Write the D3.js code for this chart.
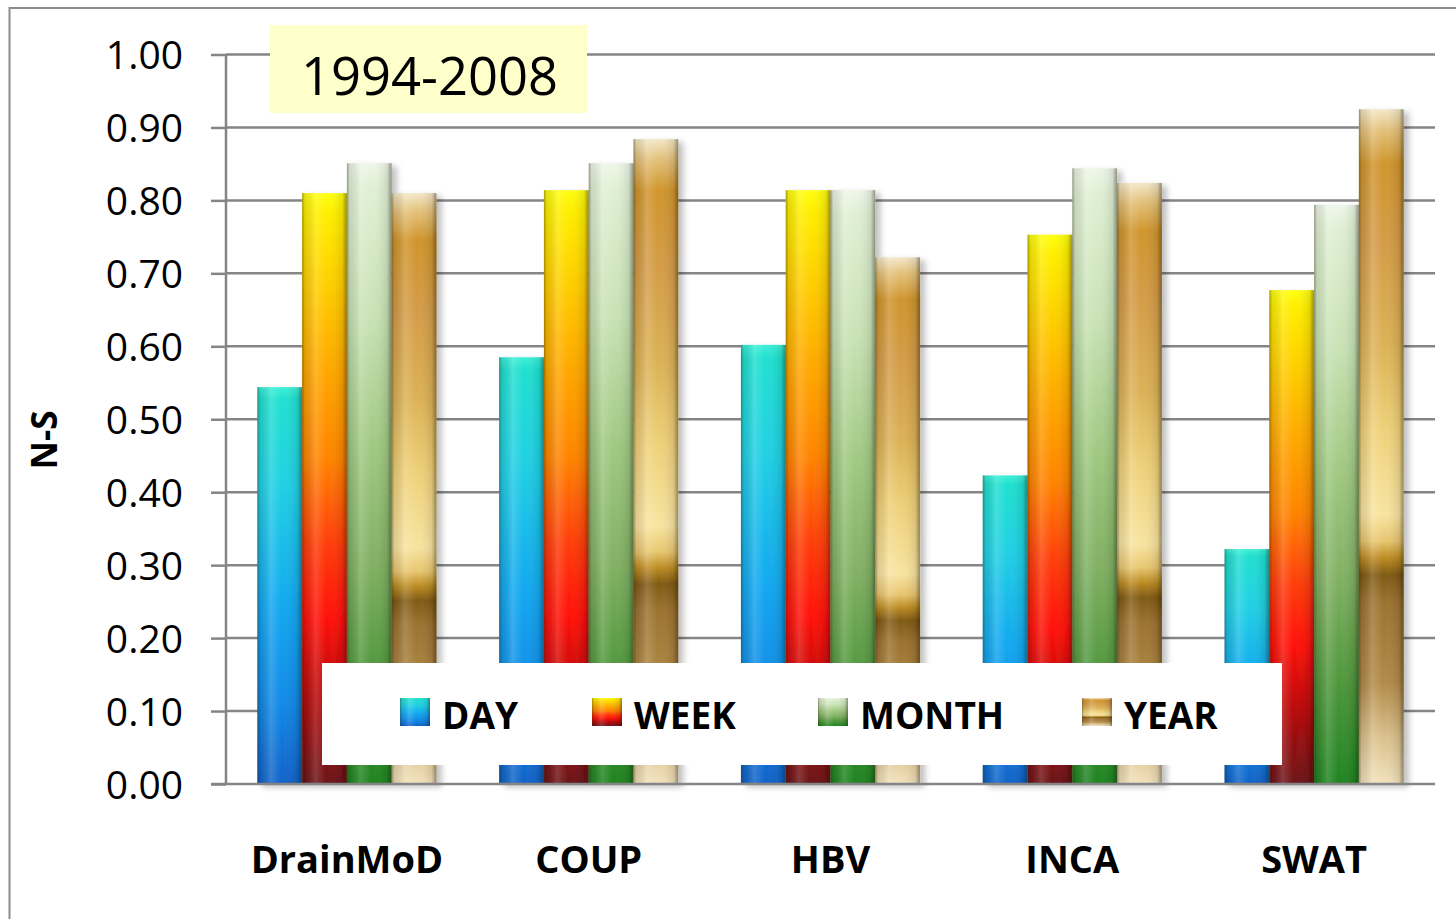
<!DOCTYPE html>
<html>
<head>
<meta charset="utf-8">
<script src="https://cdn.jsdelivr.net/npm/d3@7"></script>
<style>
  html, body { margin: 0; padding: 0; background: #fff; }
  svg { display: block; font-family: "Open Sans", "DejaVu Sans", sans-serif; }
</style>
</head>
<body>
<svg id="chart" width="1456" height="919"></svg>
<script>
// ---- data ----
const categories = ["DrainMoD", "COUP", "HBV", "INCA", "SWAT"];
const seriesNames = ["DAY", "WEEK", "MONTH", "YEAR"];
const dayValues   = [0.544, 0.585, 0.602, 0.423, 0.322];
const weekValues  = [0.810, 0.814, 0.814, 0.753, 0.677];
const monthValues = [0.851, 0.851, 0.814, 0.844, 0.794];
const yearValues  = [0.810, 0.884, 0.722, 0.824, 0.925];
const yTicks = [0, 0.1, 0.2, 0.3, 0.4, 0.5, 0.6, 0.7, 0.8, 0.9, 1.0];
const titleText = "1994-2008";
const yAxisTitle = "N-S";

const seriesValues = [dayValues, weekValues, monthValues, yearValues];

// ---- layout ----
const svg = d3.select("#chart");
const plot = { left: 226, right: 1435, top: 54.5, bottom: 784 };

const x0 = d3.scaleBand().domain(categories).range([plot.left, plot.right]).padding(0);
const x1 = d3.scaleBand().domain(seriesNames).range([0, x0.bandwidth()]).paddingInner(0).paddingOuter(0.70);
const y = d3.scaleLinear().domain([0, 1]).range([plot.bottom, plot.top]);

// ---- gradients ----
const defs = svg.append("defs");
const gradStops = {
  DAY: [[0, "#3cf0d8"], [0.03, "#20e0d0"], [0.25, "#20d0e4"], [0.55, "#12a8f0"], [0.8, "#1088e6"], [1, "#1062c8"]],
  WEEK: [[0, "#ffff10"], [0.03, "#fff000"], [0.15, "#ffd000"], [0.3, "#ffa800"], [0.45, "#ff8400"], [0.6, "#ff3a08"], [0.72, "#ff1008"], [0.85, "#b80808"], [1, "#6a1418"]],
  MONTH: [[0, "#eef6e8"], [0.04, "#e0f0d4"], [0.25, "#c8e2b4"], [0.45, "#a2ca84"], [0.65, "#80b062"], [0.82, "#50983c"], [1, "#1f8420"]],
  YEAR: [[0, "#f3e8c8"], [0.03, "#e4c27c"], [0.08, "#d0952c"], [0.2, "#d49c48"], [0.35, "#dcb256"], [0.47, "#eed078"], [0.6, "#f8e4a0"], [0.64, "#e8c670"], [0.665, "#bc8c22"], [0.69, "#805a14"], [0.73, "#9c7230"], [0.85, "#b28a48"], [0.93, "#dac08c"], [1, "#f2e2bc"]]
};
seriesNames.forEach(s => {
  const g = defs.append("linearGradient").attr("id", "g-" + s)
    .attr("x1", 0).attr("y1", 0).attr("x2", 0).attr("y2", 1);
  gradStops[s].forEach(([o, c]) => g.append("stop").attr("offset", o).attr("stop-color", c));
});
const cyl = defs.append("linearGradient").attr("id", "cyl").attr("x1", 0).attr("y1", 0).attr("x2", 1).attr("y2", 0);
[[0, "rgba(60,50,20,0.45)"], [0.06, "rgba(0,0,0,0.10)"], [0.3, "rgba(255,255,255,0.16)"], [0.55, "rgba(255,255,255,0.0)"], [0.9, "rgba(0,0,0,0.10)"], [1, "rgba(40,30,10,0.45)"]]
  .forEach(([o, c]) => cyl.append("stop").attr("offset", o).attr("stop-color", c));
const shadow = defs.append("filter").attr("id", "shadow").attr("x", "-20%").attr("y", "-5%").attr("width", "150%").attr("height", "115%");
shadow.append("feGaussianBlur").attr("in", "SourceAlpha").attr("stdDeviation", 3);
shadow.append("feOffset").attr("dx", 5).attr("dy", 3).attr("result", "ob");
shadow.append("feComponentTransfer").append("feFuncA").attr("type", "linear").attr("slope", 0.25);
const fm = shadow.append("feMerge");
fm.append("feMergeNode");
fm.append("feMergeNode").attr("in", "SourceGraphic");

// ---- outer frame ----
svg.append("rect").attr("x", 9.5).attr("y", 8).attr("width", 1500).attr("height", 950)
  .attr("fill", "none").attr("stroke", "#8c8c8c").attr("stroke-width", 2);

// ---- gridlines ----
svg.append("g").selectAll("line").data(yTicks.filter(t => t > 0)).join("line")
  .attr("x1", plot.left).attr("x2", plot.right)
  .attr("y1", d => y(d)).attr("y2", d => y(d))
  .attr("stroke", "#858585").attr("stroke-width", 2.5);

// ---- bars ----
const groups = svg.append("g").selectAll("g").data(categories).join("g")
  .attr("transform", d => `translate(${x0(d)},0)`)
  .attr("filter", "url(#shadow)");
const barData = (c, ci) => seriesNames.map((s, si) => ({ s, v: seriesValues[si][ci] }));
groups.each(function(c, ci) {
  const g = d3.select(this);
  const d = barData(c, ci);
  g.selectAll("rect.bar").data(d).join("rect").attr("class", "bar")
    .attr("x", e => x1(e.s)).attr("width", x1.bandwidth())
    .attr("y", e => y(e.v)).attr("height", e => y(0) - y(e.v))
    .attr("fill", e => `url(#g-${e.s})`);
  g.selectAll("rect.cyl").data(d).join("rect").attr("class", "cyl")
    .attr("x", e => x1(e.s)).attr("width", x1.bandwidth())
    .attr("y", e => y(e.v)).attr("height", e => y(0) - y(e.v))
    .attr("fill", "url(#cyl)");
});

// ---- axes ----
const yAxis = d3.axisLeft(y).tickValues(yTicks).tickSize(15).tickFormat(d3.format(".2f"));
const ya = svg.append("g").attr("transform", `translate(${plot.left},0)`).call(yAxis);
ya.select(".domain").attr("stroke", "#858585").attr("stroke-width", 2.5).attr("d", `M0,${plot.top}V${plot.bottom}`);
ya.selectAll(".tick line").attr("stroke", "#858585").attr("stroke-width", 2.5);
ya.selectAll(".tick text").attr("x", -43).attr("dy", "0.36em")
  .attr("font-size", 39).attr("fill", "#000").attr("font-family", "Open Sans, sans-serif");
// baseline
svg.append("line").attr("x1", plot.left - 15).attr("x2", plot.right)
  .attr("y1", y(0)).attr("y2", y(0)).attr("stroke", "#858585").attr("stroke-width", 2.5);

const xAxis = d3.axisBottom(x0).tickSize(0);
const xa = svg.append("g").attr("transform", `translate(0,${plot.bottom})`).call(xAxis);
xa.select(".domain").remove();
xa.selectAll(".tick text").attr("y", 89).attr("dy", 0)
  .attr("font-size", 38).attr("font-weight", "bold").attr("fill", "#000")
  .attr("font-family", "Open Sans, sans-serif");

// y axis title
svg.append("text").attr("transform", "translate(57,440) rotate(-90)")
  .attr("text-anchor", "middle").attr("font-size", 35).attr("font-weight", "bold")
  .text(yAxisTitle);

// ---- title box ----
svg.append("rect").attr("x", 270).attr("y", 25).attr("width", 317).attr("height", 88).attr("fill", "#ffffcc");
svg.append("text").attr("x", 429.5).attr("y", 95).attr("text-anchor", "middle")
  .attr("font-size", 52.5).attr("fill", "#000").text(titleText);

// ---- legend ----
svg.append("rect").attr("x", 322).attr("y", 663).attr("width", 960).attr("height", 102).attr("fill", "#fff");
const legendX = [400, 592, 818, 1082];
const lg = svg.append("g").selectAll("g").data(seriesNames).join("g")
  .attr("transform", (d, i) => `translate(${legendX[i]},698)`);
lg.append("rect").attr("width", 30).attr("height", 28).attr("fill", d => `url(#g-${d})`);
lg.append("rect").attr("width", 30).attr("height", 28).attr("fill", "url(#cyl)");
lg.append("text").attr("x", 42).attr("y", 31).attr("font-size", 37).attr("font-weight", "bold")
  .attr("fill", "#000").text(d => d);
</script>
</body>
</html>
